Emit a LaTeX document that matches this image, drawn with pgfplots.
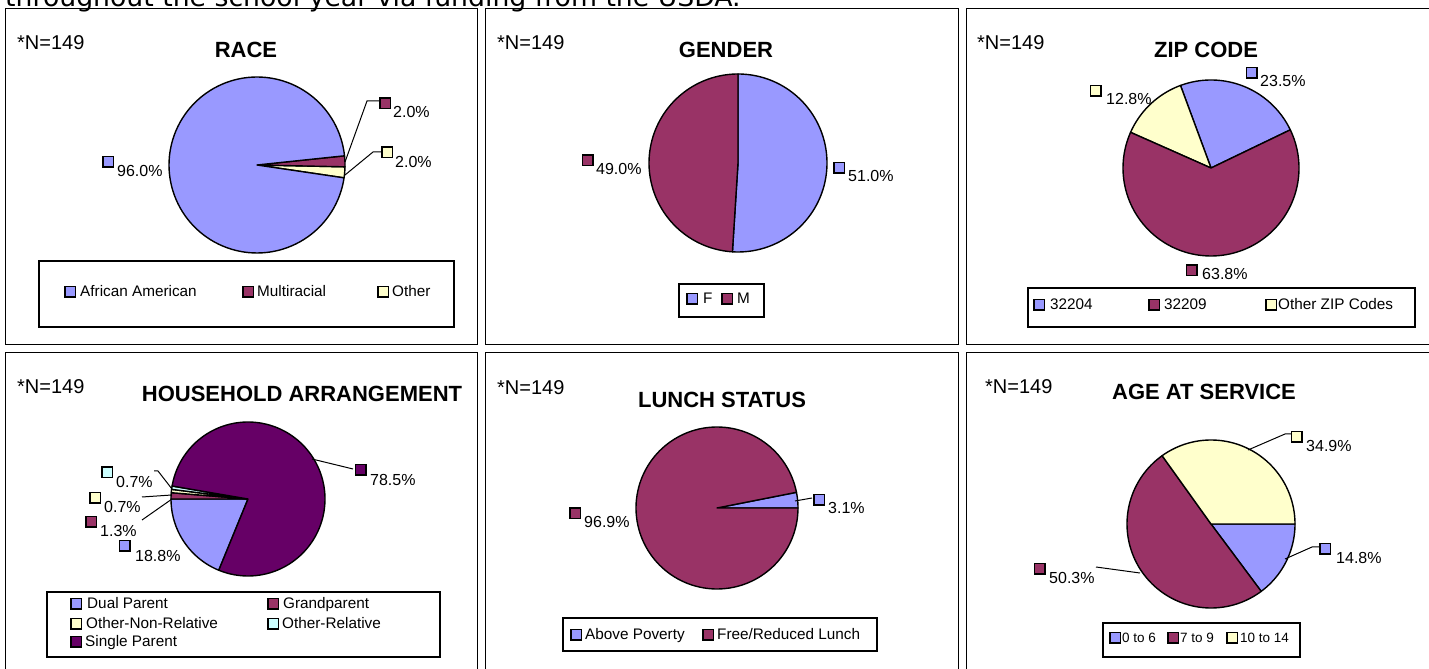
\documentclass[border=0pt]{standalone}
\usepackage{pgfplots}
\pgfplotsset{compat=1.18}
\usepackage{fontspec}
\setmainfont{Liberation Sans}
\newfontfamily\dejavu{DejaVu Sans}
\definecolor{pblue}{HTML}{9999FF}
\definecolor{pmar}{HTML}{993366}
\definecolor{pyel}{HTML}{FFFFCC}
\definecolor{pcya}{HTML}{CCFFFF}
\definecolor{ppur}{HTML}{660066}
\newcommand\lbl{\fontsize{16}{18}\selectfont}
\newcommand\leg{\fontsize{15.3}{17}\selectfont}
\newcommand\sleg{\fontsize{13.5}{15}\selectfont}
\newcommand\ttl{\bfseries\fontsize{22}{24}\selectfont}
\newcommand\nn{\fontsize{20}{22}\selectfont}
% wedge: start angle, end angle (ccw, degrees), colour, samples
\newcommand{\slice}[4]{\addplot[fill=#3, draw=black, line width=1.4pt, line join=round, domain=#1:#2, samples=#4] ({\pr*cos(x)},{\pr*sin(x)}) -- (axis cs:0,0) -- cycle;}
\pgfplotsset{pie/.style={anchor=center, x=1pt, y=1pt, xmin=-100, xmax=100, ymin=-100, ymax=100, hide axis, clip=false}}
% label: sqx sqy colour textx textbase text (pixel coords, y down)
\newcommand{\plab}[6]{\draw[fill=#3, line width=1.5pt] ({#1-5.25},{#2-5.25}) rectangle ({#1+5.25},{#2+5.25});
\node[anchor=base west, inner sep=0, font=\lbl] at (#4,#5) {#6};}
% legend entry: sq left, base, colour, text x, text, font
\newcommand{\lent}[6]{\draw[fill=#3, line width=1.5pt] (#1,{#2-10.5}) rectangle ({#1+10.5},#2);
\node[anchor=base west, inner sep=0, font=#6] at (#4,#2) {#5};}
\begin{document}
\begin{tikzpicture}[x=1pt,y=1pt]
\useasboundingbox (0,0) rectangle (1429,669);
\node[anchor=base west, inner sep=0, font=\dejavu\fontsize{26.7}{30}\selectfont] at (5,662.3) {throughout the school year via funding from the USDA.};

% ---------- RACE ----------
\def\pr{88}
\begin{axis}[pie, at={(257,504)}]
\slice{-8.4}{-1.2}{pyel}{20}
\slice{-1.2}{6}{pmar}{20}
\slice{6}{351.6}{pblue}{120}
\end{axis}
% ---------- GENDER ----------
\def\pr{89}
\begin{axis}[pie, at={(738,506)}]
\slice{-93.6}{90}{pblue}{90}
\slice{90}{266.4}{pmar}{90}
\end{axis}
% ---------- ZIP CODE ----------
\def\pr{88}
\begin{axis}[pie, at={(1211,501)}]
\slice{25.7}{110.3}{pblue}{50}
\slice{110.3}{156.1}{pyel}{40}
\slice{156.1}{385.7}{pmar}{110}
\end{axis}
% ---------- HOUSEHOLD ----------
\def\pr{77}
\begin{axis}[pie, at={(248,170)}]
\slice{180}{247.7}{pblue}{50}
\slice{175.3}{180}{pmar}{10}
\slice{172.8}{175.3}{pyel}{10}
\slice{170.3}{172.8}{pcya}{10}
\slice{247.7}{530.3}{ppur}{120}
\end{axis}
% ---------- LUNCH ----------
\def\pr{81}
\begin{axis}[pie, at={(717,161)}]
\slice{0}{11.16}{pblue}{15}
\slice{11.16}{360}{pmar}{130}
\end{axis}
% ---------- AGE ----------
\def\pr{84}
\begin{axis}[pie, at={(1211,145)}]
\slice{-53.3}{0}{pblue}{40}
\slice{125.6}{306.7}{pmar}{90}
\slice{0}{125.6}{pyel}{60}
\end{axis}

\begin{scope}[shift={(0,669)}, yscale=-1]
% panel frames
\draw[line width=1pt] (5,9) rectangle (477,345);
\draw[line width=1pt] (485,9) rectangle (958,345);
\draw[line width=1pt] (966,9) rectangle (1445,345);
\draw[line width=1pt] (5,353) rectangle (477,690);
\draw[line width=1pt] (485,353) rectangle (958,690);
\draw[line width=1pt] (966,353) rectangle (1445,690);
% N and titles
\foreach \xx/\bb in {17/50,497/50,977/50,17/394,497/395,985/394}
  \node[anchor=base west, inner sep=0, font=\nn] at (\xx,\bb) {*N=149};
\node[anchor=base, inner sep=0, font=\ttl] at (246,58) {RACE};
\node[anchor=base, inner sep=0, font=\ttl] at (726,58) {GENDER};
\node[anchor=base, inner sep=0, font=\ttl] at (1206,58) {ZIP CODE};
\node[anchor=base, inner sep=0, font=\ttl] at (302,402) {HOUSEHOLD ARRANGEMENT};
\node[anchor=base, inner sep=0, font=\ttl] at (722,408) {LUNCH STATUS};
\node[anchor=base, inner sep=0, font=\ttl] at (1204,400) {AGE AT SERVICE};
% leader lines
\draw[line width=1pt] (345,162)--(367,101)--(379,101);
\draw[line width=1pt] (345,175)--(373,152)--(382,152);
\draw[line width=1pt] (312,459)--(353,469);
\draw[line width=1pt] (154,471)--(158,471)--(172,489);
\draw[line width=1pt] (142,497)--(172,495);
\draw[line width=1pt] (142,520)--(172,499);
\draw[line width=1pt] (795,501)--(812,498);
\draw[line width=1pt] (1248,450)--(1285,434)--(1291,434);
\draw[line width=1pt] (1285,559)--(1312,547)--(1319,547);
\draw[line width=1pt] (1096,567)--(1140,573);
% data labels
\plab{108}{162}{pblue}{117}{177}{96.0\%}
\plab{385}{103.5}{pmar}{393}{118}{2.0\%}
\plab{387}{152.5}{pyel}{395}{167.5}{2.0\%}
\plab{839}{168}{pblue}{848}{182}{51.0\%}
\plab{587.5}{160.5}{pmar}{596}{175}{49.0\%}
\plab{1251.5}{73}{pblue}{1260}{87}{23.5\%}
\plab{1095.5}{91}{pyel}{1106}{105}{12.8\%}
\plab{1191.5}{270.5}{pmar}{1202}{280}{63.8\%}
\plab{360.5}{470}{ppur}{370}{486}{78.5\%}
\plab{107}{472.5}{pcya}{116}{488}{0.7\%}
\plab{95}{498}{pyel}{104}{513}{0.7\%}
\plab{91}{522}{pmar}{100}{537}{1.3\%}
\plab{124.5}{546}{pblue}{135}{562}{18.8\%}
\plab{819}{500}{pblue}{828}{514}{3.1\%}
\plab{575}{513.5}{pmar}{584}{528}{96.9\%}
\plab{1296.5}{437}{pyel}{1306}{452}{34.9\%}
\plab{1325}{549}{pblue}{1336}{564}{14.8\%}
\plab{1039.5}{569}{pmar}{1049}{584}{50.3\%}
% legends
\draw[line width=1.5pt] (39,261) rectangle (454,327);
\lent{65}{297}{pblue}{80}{African American}{\leg}
\lent{243}{297}{pmar}{257}{Multiracial}{\leg}
\lent{378}{297}{pyel}{392}{Other}{\leg}
\draw[line width=1.5pt] (679,284) rectangle (764,317);
\lent{687}{304}{pblue}{703}{F}{\leg}
\lent{722}{304}{pmar}{737}{M}{\leg}
\draw[line width=1.5pt] (1028,288) rectangle (1415,327);
\lent{1034}{310}{pblue}{1050}{32204}{\leg}
\lent{1149}{310}{pmar}{1164}{32209}{\leg}
\lent{1266}{310}{pyel}{1278}{Other ZIP Codes}{\leg}
\draw[line width=1.5pt] (47,592) rectangle (440,657);
\lent{71}{609}{pblue}{87}{Dual Parent}{\leg}
\lent{268}{609}{pmar}{283}{Grandparent}{\leg}
\lent{71}{629}{pyel}{86}{Other-Non-Relative}{\leg}
\lent{268}{629}{pcya}{282}{Other-Relative}{\leg}
\lent{71}{647}{ppur}{85}{Single Parent}{\leg}
\draw[line width=1.5pt] (563,618) rectangle (877,651);
\lent{571}{640}{pblue}{585}{Above Poverty}{\leg}
\lent{703}{640}{pmar}{717}{Free/Reduced Lunch}{\leg}
\draw[line width=1.5pt] (1103,623) rectangle (1300,657);
\lent{1110}{643}{pblue}{1122}{0 to 6}{\sleg}
\lent{1168}{643}{pmar}{1180}{7 to 9}{\sleg}
\lent{1227}{643}{pyel}{1240}{10 to 14}{\sleg}
\end{scope}
\end{tikzpicture}
\end{document}
